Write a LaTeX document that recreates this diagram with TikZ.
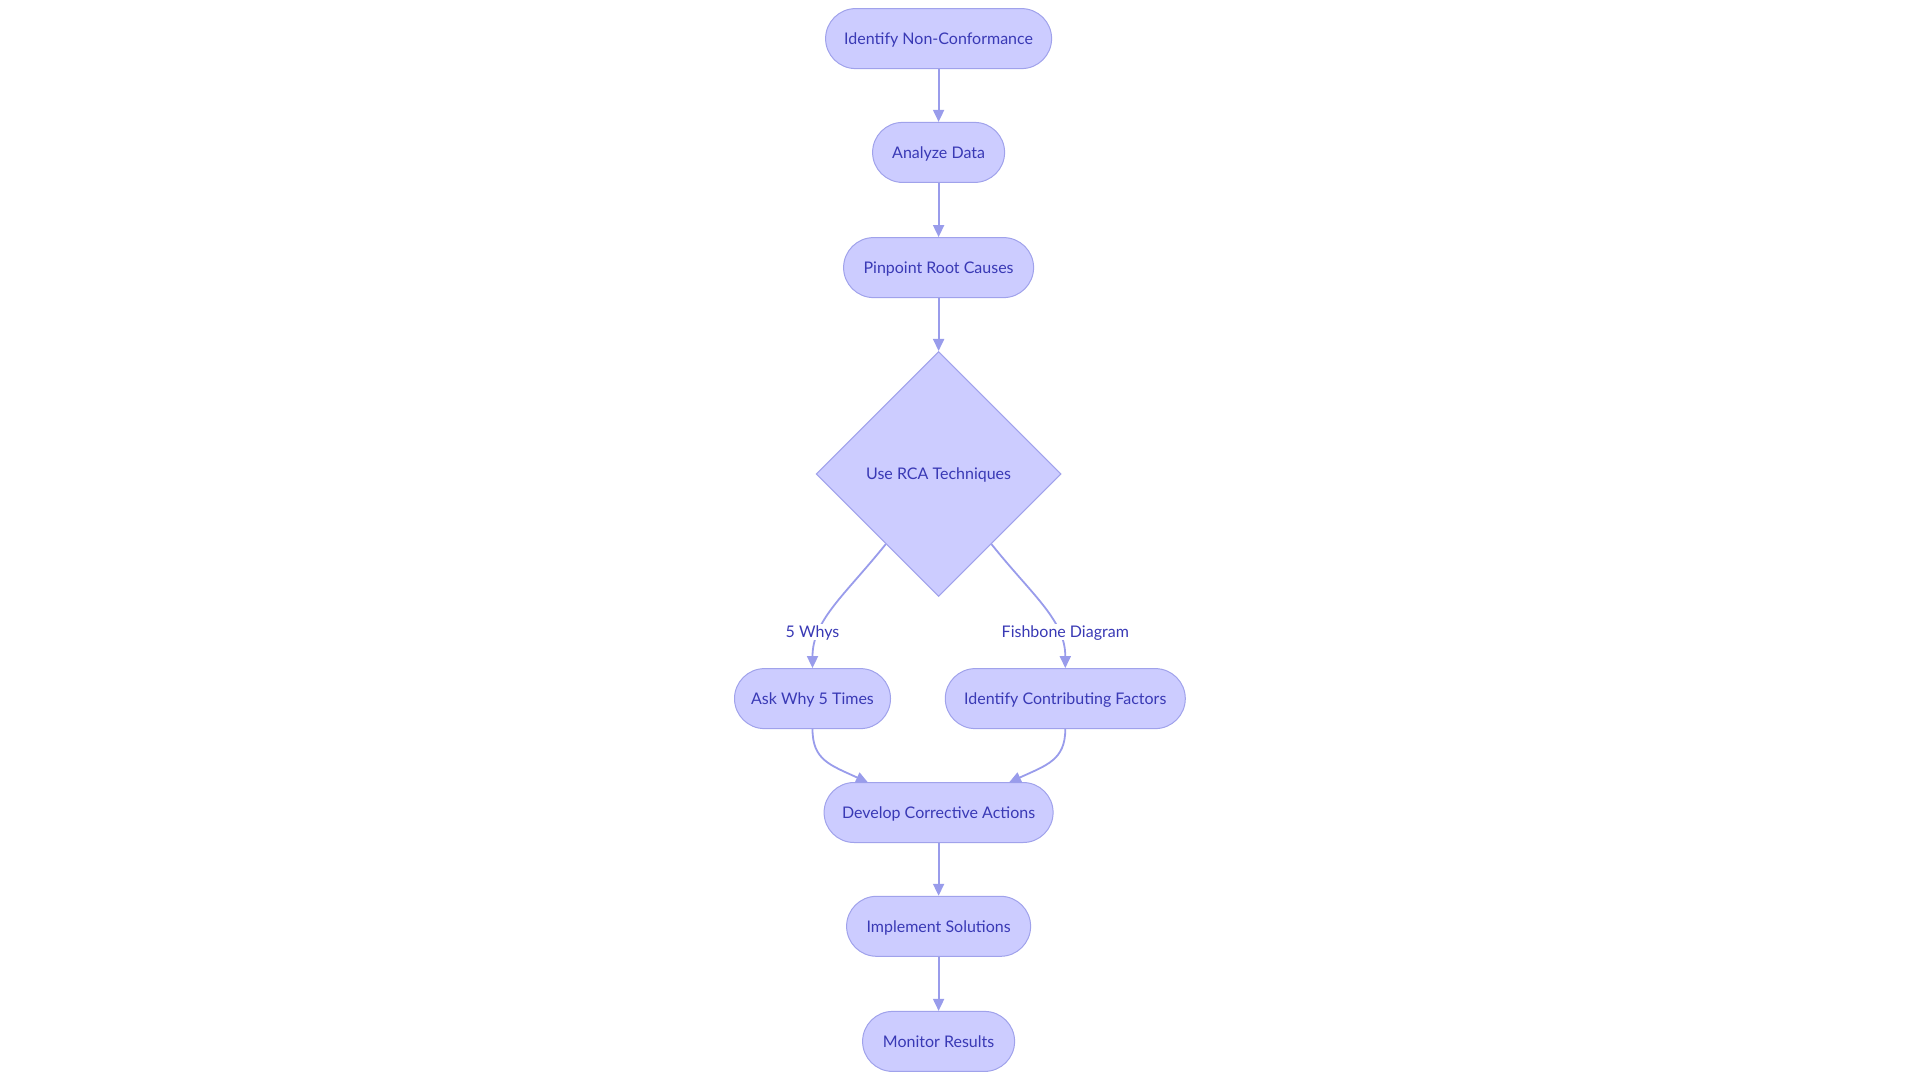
\documentclass[tikz,border=0pt]{standalone}
\usepackage{fontspec}
\setmainfont{Lato}
\usetikzlibrary{shapes.geometric,arrows.meta}
\definecolor{nfill}{RGB}{204,204,255}
\definecolor{nstroke}{RGB}{160,162,235}
\definecolor{edgec}{RGB}{153,156,235}
\definecolor{txt}{RGB}{57,57,181}
\begin{document}
\begin{tikzpicture}[x=1pt,y=-1pt,
  every node/.style={font=\fontsize{16}{19}\selectfont, text=txt, text height=11.5pt, text depth=0pt},
  pill/.style={draw=nstroke, fill=nfill, line width=1pt, rounded corners=30pt,
     minimum height=60pt, inner sep=0pt},
  dia/.style={diamond, draw=nstroke, fill=nfill, line width=1pt, aspect=1,
     minimum width=245pt, minimum height=245pt, inner sep=0pt},
  lbl/.style={fill=white, inner sep=2pt},
  conn/.style={draw=edgec, line width=1.8pt, -{Triangle[length=12pt,width=11pt]}}
]
\useasboundingbox (0,0) rectangle (1920,1080);
\node[pill, minimum width=226pt] (a) at (938.6,38.6) {Identify Non-Conformance};
\node[pill, minimum width=132pt] (b) at (938.6,152.4) {Analyze Data};
\node[pill, minimum width=190pt] (c) at (938.6,267.6) {Pinpoint Root Causes};
\node[dia] (d) at (938.6,474) {Use RCA Techniques};
\node[pill, minimum width=156pt] (e) at (812.5,698.6) {Ask Why 5 Times};
\node[pill, minimum width=240pt] (f) at (1065.3,698.6) {Identify Contributing Factors};
\node[pill, minimum width=229pt] (g) at (938.6,812.5) {Develop Corrective Actions};
\node[pill, minimum width=184pt] (h) at (938.6,926.3) {Implement Solutions};
\node[pill, minimum width=152pt] (i) at (938.6,1041.4) {Monitor Results};

\draw[conn] (a) -- (b);
\draw[conn] (b) -- (c);
\draw[conn] (c) -- (d);
\draw[conn] (d.-127) .. controls (845,595) and (812.5,620) .. (e.north);
\draw[conn] (d.-53) .. controls (1032,595) and (1065.3,620) .. (f.north);
\node[lbl] (l1) at (812.5,632) {5 Whys};
\node[lbl] (l2) at (1065.3,632) {Fishbone Diagram};
\draw[conn] (e.south) .. controls (812.5,760) and (830,765) .. (868,782.5);
\draw[conn] (f.south) .. controls (1065.3,760) and (1047,765) .. (1009,782.5);
\draw[conn] (g) -- (h);
\draw[conn] (h) -- (i);
\end{tikzpicture}
\end{document}
